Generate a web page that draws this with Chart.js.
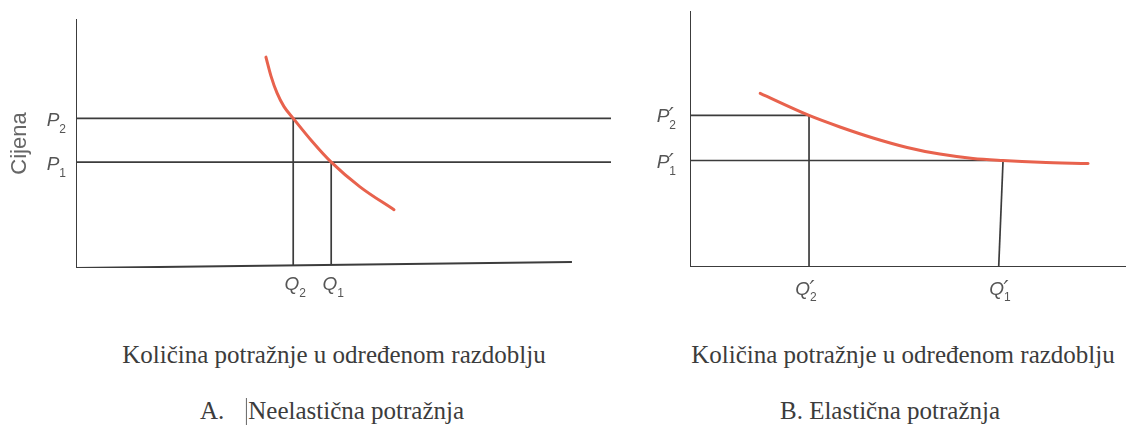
<!DOCTYPE html>
<html>
<head>
<meta charset="utf-8">
<script src="https://cdn.jsdelivr.net/npm/chart.js@4.4.1/dist/chart.umd.min.js"></script>
<style>
  html, body { margin: 0; padding: 0; background: #ffffff; }
  body { width: 1130px; height: 439px; overflow: hidden; position: relative; }
  .wrap { position: absolute; top: 0; }
  .cap { position: absolute; font-family: "Liberation Serif", "Times New Roman", serif; font-size: 25px;
         line-height: 30px; color: #3c3c3c; white-space: nowrap; transform: translateX(-50%); }
  .cursor { display: inline-block; width: 0; height: 27px; border-left: 1px solid #666; vertical-align: -6px; margin-right: 1px; }
</style>
</head>
<body>
<div class="wrap" style="left:0;width:620px;height:330px"><canvas id="chartA" width="620" height="330"></canvas></div>
<div class="wrap" style="left:620px;width:510px;height:330px"><canvas id="chartB" width="510" height="330"></canvas></div>

<div class="cap" id="capA1" style="left:334px;top:340px"></div>
<div class="cap" id="capA2" style="left:332px;top:396px"></div>
<div class="cap" id="capB1" style="left:903px;top:340px"></div>
<div class="cap" id="capB2" style="left:890px;top:396px"></div>

<script>
// ---------------- DATA ----------------
// Panel A: inelastic demand (quantity, price in arbitrary units 0..100)
const demandA_Q = [35.5, 36.45, 37.57, 38.88, 40.6, 44.11, 47.7, 53.08, 59.44];
const demandA_P = [84.7, 77.08, 70.30, 64.80, 60.1, 50.89, 42.5, 32.60, 23.39];
const pricesA = [60.1, 42.5];            // P2, P1
const priceLabelsA = ['P₂', 'P₁'];
const quantitiesA = [40.6, 47.7];        // Q2, Q1
const quantityLabelsA = ['Q₂', 'Q₁'];
const priceLineEndA = 100;               // horizontal price lines run across the panel
const xAxisA_Q = [0, 92.7];              // drawn quantity axis (slightly tilted in the original)
const xAxisA_P = [0, 2.4];
const yTitleA = 'Cijena';

// Panel B: elastic demand
const demandB_Q = [16.1, 27.3, 34.4, 42.0, 49.8, 57.3, 64.9, 71.8, 80.3, 91.3];
const demandB_P = [67.8, 59.2, 54.7, 50.4, 46.7, 44.1, 42.4, 41.6, 40.9, 40.4];
const pricesB = [59.2, 41.6];            // P'2, P'1
const priceLabelsB = ['P′₂', 'P′₁'];
const quantitiesB = [27.3, 71.8];        // Q'2, Q'1
const quantityLabelsB = ['Q′₂', 'Q′₁'];
const xAxisB_Q = [0, 100];
const xAxisB_P = [0, 0];

const captionX = 'Količina potražnje u određenom razdoblju';
const panelTitleA = ['A.', 'Neelastična potražnja'];
const panelTitleB = 'B. Elastična potražnja';

// ---------------- CAPTIONS ----------------
document.getElementById('capA1').textContent = captionX;
document.getElementById('capB1').textContent = captionX;
document.getElementById('capB2').textContent = panelTitleB;
(function () {
  const el = document.getElementById('capA2');
  el.appendChild(document.createTextNode(panelTitleA[0]));
  const gap = document.createElement('span');
  gap.style.display = 'inline-block'; gap.style.width = '22px';
  el.appendChild(gap);
  const cur = document.createElement('span'); cur.className = 'cursor';
  el.appendChild(cur);
  el.appendChild(document.createTextNode(panelTitleA[1]));
})();

// ---------------- HELPERS ----------------
const INK = '#3c3c3c';
const RED = '#e8624d';
const LABEL_COLOR = '#555555';
const subMap = { '₀':'0','₁':'1','₂':'2','₃':'3','₄':'4','₅':'5','₆':'6','₇':'7','₈':'8','₉':'9' };

function pts(xs, ys) { return xs.map((x, i) => ({ x: x, y: ys[i] })); }
function seg(x1, y1, x2, y2, width) {
  return { data: [{ x: x1, y: y1 }, { x: x2, y: y2 }], showLine: true, borderColor: INK,
           borderWidth: width || 1.7, pointRadius: 0, fill: false };
}

// draws "P₂" / "P′₂" style labels with a real subscript (and prime)
function drawSymbol(ctx, label, x, baseY, subDY, align) {
  const letter = label[0];
  const hasPrime = label.indexOf('′') >= 0;
  const sub = subMap[label[label.length - 1]] || '';
  ctx.save();
  ctx.fillStyle = LABEL_COLOR;
  ctx.textBaseline = 'alphabetic';
  ctx.textAlign = 'left';
  const fMain = 'italic 19px "Liberation Sans", Arial, sans-serif';
  const fSub = '12px "Liberation Sans", Arial, sans-serif';
  const fPrime = 'italic 22px "DejaVu Sans", sans-serif';
  ctx.font = fMain; const wL = ctx.measureText(letter).width;
  ctx.font = fSub; const wS = ctx.measureText(sub).width;
  const total = wL + wS + (hasPrime ? 2 : 0);
  const x0 = align === 'right' ? x - total : x - total / 2;
  ctx.font = fMain; ctx.fillText(letter, x0, baseY);
  if (hasPrime) { ctx.font = fPrime; ctx.fillText('′', x0 + wL - 0.5, baseY + 1); }
  ctx.font = fSub; ctx.fillText(sub, x0 + wL + (hasPrime ? 0 : 0), baseY + subDY);
  ctx.restore();
}

const symbolLabels = {
  id: 'symbolLabels',
  afterDraw(chart, args, opts) {
    const ctx = chart.ctx, ca = chart.chartArea;
    const xs = chart.scales.x, ys = chart.scales.y;
    opts.yValues.forEach((v, i) => {
      const py = ys.getPixelForValue(v);
      drawSymbol(ctx, opts.yLabels[i], ca.left - opts.yGap, py + opts.yBase, opts.ySub, 'right');
    });
    opts.xValues.forEach((v, i) => {
      const px = xs.getPixelForValue(v);
      drawSymbol(ctx, opts.xLabels[i], px + opts.xShift, ca.bottom + opts.xBase, opts.xSub, 'center');
    });
  }
};

function makeChart(id, cfg) {
  const datasets = [];
  // demand curve (first => drawn on top)
  datasets.push({ data: pts(cfg.curveQ, cfg.curveP), showLine: true, borderColor: RED, borderWidth: 3,
                  pointRadius: 0, cubicInterpolationMode: 'monotone', borderCapStyle: 'round', fill: false });
  // axes
  datasets.push(seg(0, 0, 0, 100, 2));
  datasets.push(seg(cfg.axisQ[0], cfg.axisP[0], cfg.axisQ[1], cfg.axisP[1], 2));
  // price guide lines
  cfg.prices.forEach((p, i) => {
    const end = cfg.priceEnds ? cfg.priceEnds[i] : cfg.priceEnd;
    datasets.push(seg(0, p, end, p, 1.7));
  });
  // quantity guide lines
  cfg.quantities.forEach((q, i) => {
    datasets.push(seg(cfg.qBottoms ? cfg.qBottoms[i] : q, cfg.qBase ? cfg.qBase(q) : 0, q, cfg.prices[i], 1.7));
  });

  return new Chart(document.getElementById(id), {
    type: 'scatter',
    data: { datasets: datasets },
    options: {
      responsive: false,
      animation: false,
      events: [],
      layout: { padding: cfg.padding },
      plugins: {
        legend: { display: false },
        tooltip: { enabled: false },
        symbolLabels: cfg.labels
      },
      scales: {
        x: {
          type: 'linear', min: 0, max: 100,
          grid: { display: false, drawTicks: false }, border: { display: false },
          ticks: { display: false },
          afterFit: (s) => { s.height = cfg.xHeight; }
        },
        y: {
          type: 'linear', min: 0, max: 100,
          grid: { display: false, drawTicks: false }, border: { display: false },
          ticks: { display: false },
          title: cfg.yTitle ? {
            display: true, text: cfg.yTitle, color: '#666666',
            font: { family: '"Liberation Sans", Arial, sans-serif', size: 22 },
            padding: { top: 7, bottom: 0 }
          } : { display: false },
          afterFit: (s) => { s.width = cfg.yWidth; }
        }
      }
    },
    plugins: [symbolLabels]
  });
}

makeChart('chartA', {
  curveQ: demandA_Q, curveP: demandA_P,
  axisQ: xAxisA_Q, axisP: xAxisA_P,
  prices: pricesA, priceEnd: priceLineEndA,
  quantities: quantitiesA,
  qBase: (q) => xAxisA_P[1] * q / xAxisA_Q[1],
  padding: { top: 19, right: 9, left: 0, bottom: 0 },
  xHeight: 62, yWidth: 76,
  yTitle: yTitleA,
  labels: { yValues: pricesA, yLabels: priceLabelsA, yGap: 10, yBase: 8, ySub: 7,
            xValues: quantitiesA, xLabels: quantityLabelsA, xShift: 2, xBase: 22, xSub: 7 }
});

makeChart('chartB', {
  curveQ: demandB_Q, curveP: demandB_P,
  axisQ: xAxisB_Q, axisP: xAxisB_P,
  prices: pricesB, priceEnds: quantitiesB,
  quantities: quantitiesB,
  qBottoms: [quantitiesB[0], quantitiesB[1] - 1.0],
  padding: { top: 11, right: 4, left: 0, bottom: 0 },
  xHeight: 63, yWidth: 70,
  yTitle: null,
  labels: { yValues: pricesB, yLabels: priceLabelsB, yGap: 12, yBase: 7, ySub: 7,
            xValues: quantitiesB, xLabels: quantityLabelsB, xShift: -2, xBase: 28, xSub: 6 }
});
</script>
</body>
</html>
